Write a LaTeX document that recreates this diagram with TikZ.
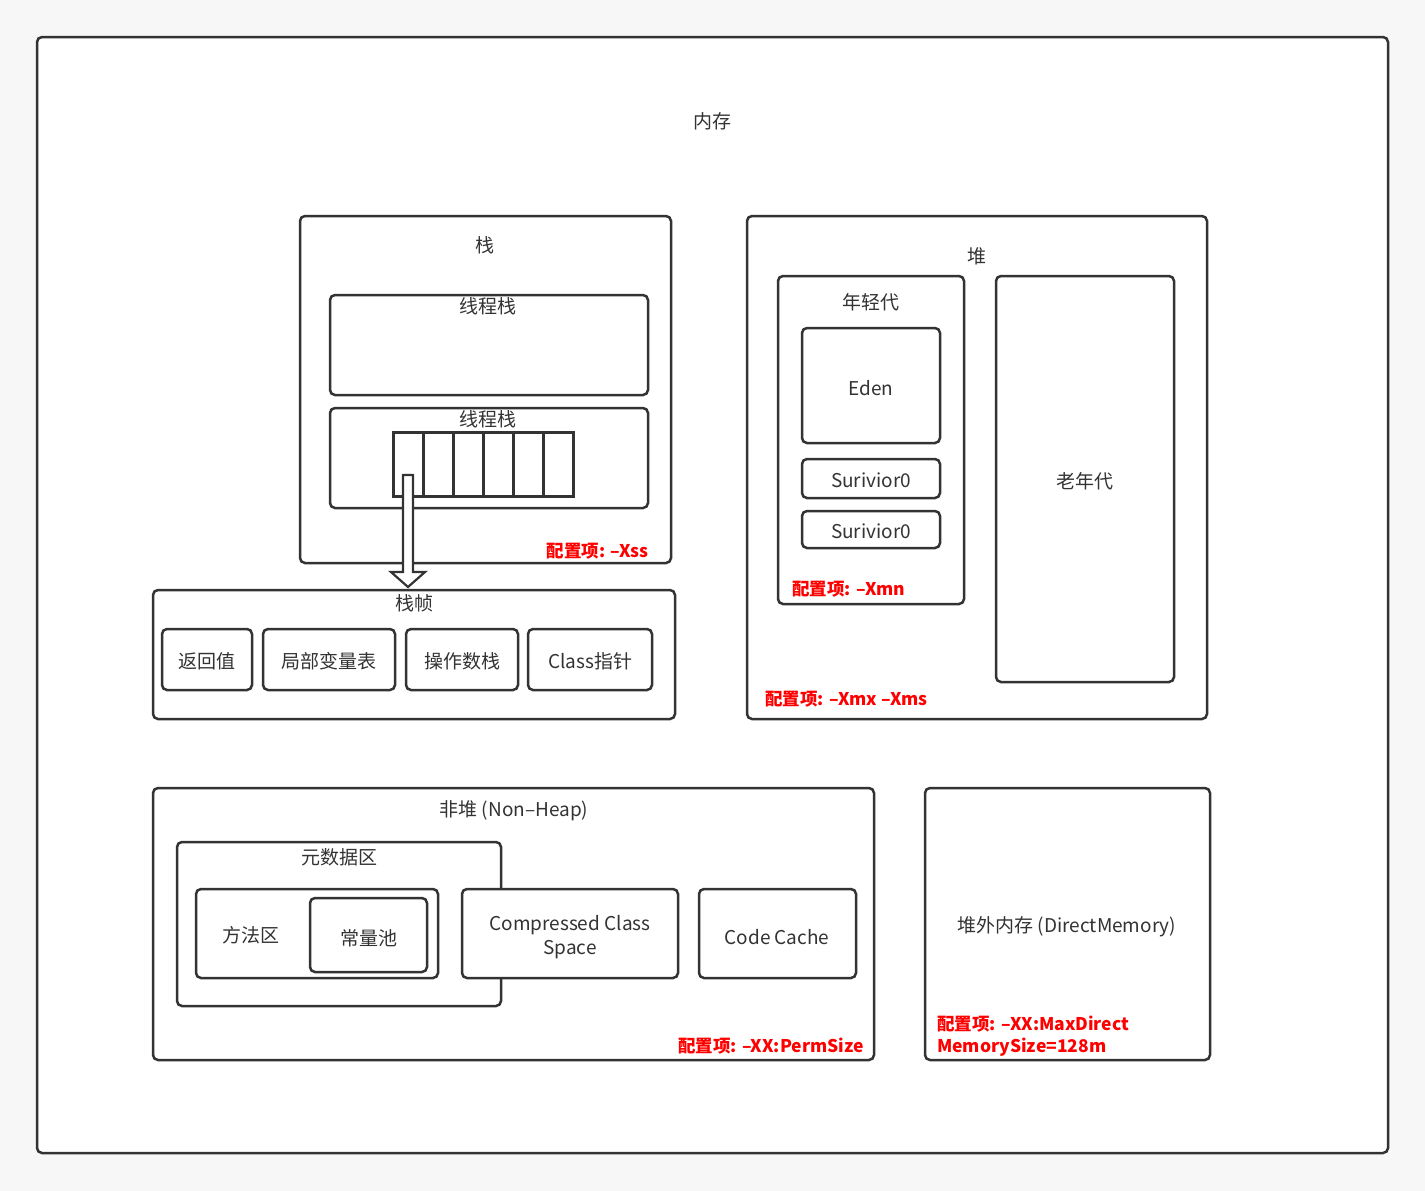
\documentclass[tikz,border=0pt]{standalone}
\usepackage{fontspec}
\setmainfont{Noto Sans CJK SC}
\definecolor{lin}{RGB}{51, 51, 51}
\definecolor{bgc}{RGB}{247, 247, 247}
\definecolor{cfg}{RGB}{255, 0, 0}

\begin{document}
\begin{tikzpicture}[x=1pt, y=-1pt,
    box/.style={draw=lin, line width=2.5pt, rounded corners=5pt, fill=white},
    cell/.style={draw=lin, line width=3pt, fill=white},
    lbl/.style={text=lin, font=\fontsize{19}{24}\selectfont, inner sep=0pt},
    cfgl/.style={text=cfg, font=\bfseries\fontsize{17.5}{22}\selectfont, inner sep=0pt}]
      \fill[bgc] (0, 0) rectangle (1425, 1191);
      \useasboundingbox (0, 0) rectangle (1425, 1191);
      \draw[box] (37, 37) rectangle (1388, 1153);
      \node[lbl] (mem) at (712, 121) {内存};
      % stack
      \draw[box] (300, 216) rectangle (671, 563);
      \node[lbl] (stk) at (485, 245) {栈};
      \draw[box] (330, 295) rectangle (648, 395);
      \node[lbl] (thr1) at (488, 306) {线程栈};
      \draw[box] (330, 408) rectangle (648, 508);
      \node[lbl] (thr2) at (488, 419) {线程栈};
      \foreach \i in {0,...,5}
        \node[cell, minimum width=30pt, minimum height=64pt, inner sep=0pt] (c\i) at (408+30*\i, 464) {};
      \node[cfgl, anchor=east] (xss) at (649, 551) {配置项: –Xss};
      % frame
      \draw[box] (153, 590) rectangle (675, 719);
      \node[lbl] (frm) at (414, 603) {栈帧};
      \coordinate (src) at (c0.center);
      \draw[box, rounded corners=0pt, line width=2.2pt] ([xshift=-5pt, yshift=-11pt]src) -- ([xshift=5pt, yshift=-11pt]src)
        -- ([xshift=5pt]src |- 0, 572) -- ([xshift=17pt]src |- 0, 572) -- (src |- 0, 587)
        -- ([xshift=-17pt]src |- 0, 572) -- ([xshift=-5pt]src |- 0, 572) -- cycle;
      \draw[box] (162, 629) rectangle (252, 690);
      \node[lbl] (ret) at (207, 661) {返回值};
      \draw[box] (263, 629) rectangle (395, 690);
      \node[lbl] (loc) at (329, 661) {局部变量表};
      \draw[box] (406, 629) rectangle (518, 690);
      \node[lbl] (ops) at (462, 661) {操作数栈};
      \draw[box] (528, 629) rectangle (652, 690);
      \node[lbl] (cls) at (590, 661) {Class指针};
      % heap
      \draw[box] (747, 216) rectangle (1207, 719);
      \node[lbl] (heap) at (977, 256) {堆};
      \draw[box] (778, 276) rectangle (964, 604);
      \node[lbl] (young) at (871, 302) {年轻代};
      \draw[box] (802, 328) rectangle (940, 443);
      \node[lbl] (eden) at (871, 388) {Eden};
      \draw[box] (802, 459) rectangle (940, 498);
      \node[lbl] (s0) at (871, 480) {Surivior0};
      \draw[box] (802, 511) rectangle (940, 548);
      \node[lbl] (s1) at (871, 531) {Surivior0};
      \node[cfgl, anchor=west] (xmn) at (792, 589) {配置项: –Xmn};
      \draw[box] (996, 276) rectangle (1174, 682);
      \node[lbl] (old) at (1085, 481) {老年代};
      \node[cfgl, anchor=west] (xmx) at (765, 699) {配置项: –Xmx –Xms};
      % non-heap
      \draw[box] (153, 788) rectangle (874, 1060);
      \node[lbl] (nh) at (514, 811) {非堆 (Non–Heap)};
      \draw[box] (177, 842) rectangle (501, 1006);
      \node[lbl] (meta) at (339, 857) {元数据区};
      \draw[box] (196, 889) rectangle (438, 978);
      \node[lbl] (mth) at (251, 935) {方法区};
      \draw[box] (310, 898) rectangle (427, 972);
      \node[lbl] (pool) at (369, 938) {常量池};
      \draw[box] (462, 889) rectangle (678, 978);
      \node[lbl, align=center] (ccs) at (570, 937) {Compressed Class\\Space};
      \draw[box] (699, 889) rectangle (856, 978);
      \node[lbl] (cc) at (777, 937) {Code Cache};
      \node[cfgl, anchor=east] (perm) at (864, 1046) {配置项: –XX:PermSize};
      % direct memory
      \draw[box] (925, 788) rectangle (1210, 1060);
      \node[lbl] (dm) at (1067, 927) {堆外内存 (DirectMemory)};
      \node[cfgl, anchor=west, align=left] (mds) at (937, 1036) {配置项: –XX:MaxDirect\\MemorySize=128m};
    \end{tikzpicture}
\end{document}
